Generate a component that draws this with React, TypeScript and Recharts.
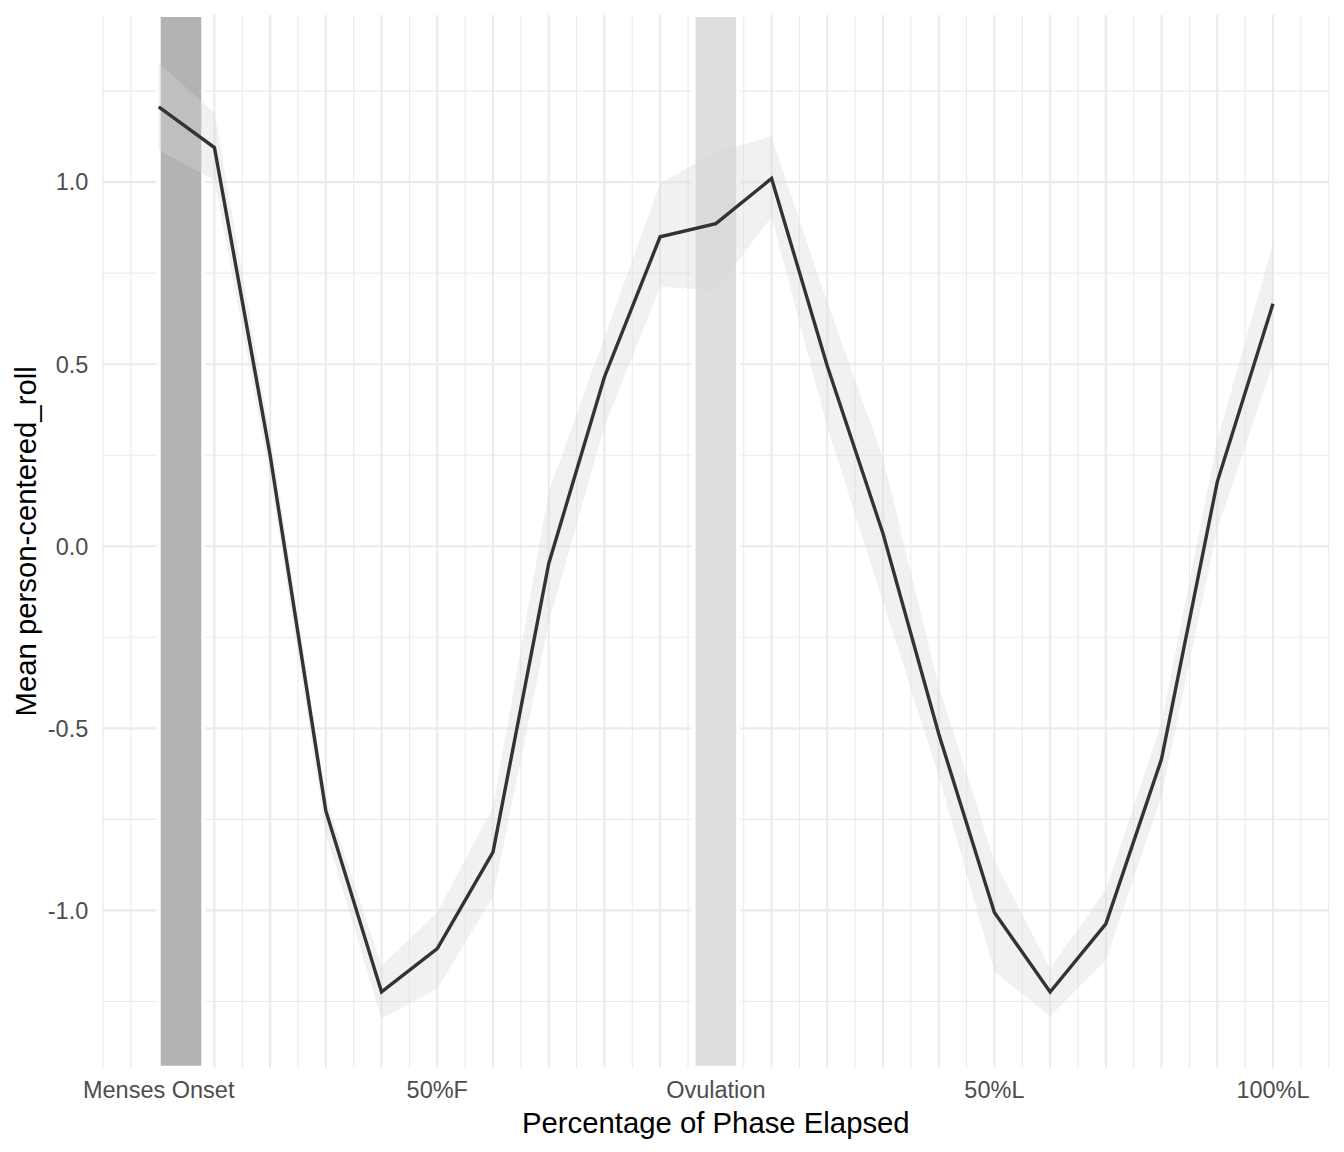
import {
    ComposedChart,
    Area,
    Line,
    XAxis,
    YAxis,
    CartesianGrid,
    ReferenceArea
} from 'recharts';

// position along the cycle (0 = menses onset, 10 = ovulation, 20 = end of luteal)
const phasePos = [0, 1, 2, 3, 4, 5, 6, 7, 8, 9, 10, 11, 12, 13, 14, 15, 16, 17, 18, 19, 20];
const meanRoll = [1.207, 1.095, 0.25, -0.727, -1.224, -1.105, -0.84, -0.048, 0.465, 0.85, 0.886,
    1.01, 0.495, 0.035, -0.515, -1.006, -1.224, -1.037, -0.584, 0.177, 0.666];
const ciLow = [1.088, 1.005, 0.19, -0.79, -1.297, -1.215, -0.963, -0.21, 0.33, 0.712, 0.703,
    0.905, 0.327, -0.152, -0.631, -1.168, -1.291, -1.137, -0.685, 0.048, 0.5];
const ciHigh = [1.327, 1.19, 0.31, -0.69, -1.151, -1.005, -0.716, 0.15, 0.575, 0.996, 1.083,
    1.125, 0.67, 0.242, -0.385, -0.864, -1.159, -0.944, -0.484, 0.292, 0.831];

const xTickPos = [0, 5, 10, 15, 20];
const xTickLabels = ['Menses Onset', '50%F', 'Ovulation', '50%L', '100%L'];
const yTicks = [-1, -0.5, 0, 0.5, 1];

const mensesBand = [0, 0.8];
const ovulationBand = [9.6, 10.4];

const data = phasePos.map((x, i) => ({
    x,
    mean: meanRoll[i],
    band: [ciLow[i], ciHigh[i]],
}));

// theme_minimal style grid: majors at integers / 0.5, minors in between
const xMinorGrid: number[] = [];
for (let v = -1; v <= 21; v += 0.5) xMinorGrid.push(v);
const yMinorGrid = [-1.25, -0.75, -0.25, 0.25, 0.75, 1.25];

const FONT = '"Liberation Sans", Arial, Helvetica, sans-serif';
const tickStyle = { fill: '#4D4D4D', fontSize: 23.5, fontFamily: FONT };
const titleStyle = { fill: '#000000', fontSize: 29.3, fontFamily: FONT };

export default function App() {
    return (
        <div style={{ width: 1336, height: 1144, fontFamily: FONT }}>
            <ComposedChart
                width={1336}
                height={1144}
                data={data}
                margin={{ top: 7, right: 15.3, left: 0, bottom: 4.3 }}
            >
                <CartesianGrid
                    stroke="#EBEBEB"
                    strokeWidth={1.1}
                    horizontalValues={yMinorGrid}
                    verticalValues={xMinorGrid}
                />
                <CartesianGrid
                    stroke="#EBEBEB"
                    strokeWidth={2.1}
                    horizontalValues={yTicks}
                    verticalValues={phasePos}
                />
                <XAxis
                    type="number"
                    dataKey="x"
                    domain={[-1, 21]}
                    ticks={xTickPos}
                    tickFormatter={(v: number) => xTickLabels[xTickPos.indexOf(v)] ?? ''}
                    axisLine={false}
                    tickLine={false}
                    tickSize={0}
                    tickMargin={13.6}
                    height={80}
                    tick={tickStyle}
                    interval={0}
                    allowDataOverflow
                    label={{
                        value: 'Percentage of Phase Elapsed',
                        position: 'insideBottom',
                        offset: 14.7,
                        style: titleStyle,
                    }}
                />
                <YAxis
                    type="number"
                    domain={[-1.432, 1.459]}
                    ticks={yTicks}
                    tickFormatter={(v: number) => v.toFixed(1)}
                    axisLine={false}
                    tickLine={false}
                    tickSize={0}
                    tickMargin={14.7}
                    width={95}
                    tick={tickStyle}
                    interval={0}
                    allowDataOverflow
                    label={{
                        value: 'Mean person-centered_roll',
                        angle: -90,
                        position: 'insideLeft',
                        offset: 17.5,
                        style: { ...titleStyle, textAnchor: 'middle' },
                    }}
                />
                <ReferenceArea
                    x1={mensesBand[0]}
                    x2={mensesBand[1]}
                    fill="#B3B3B3"
                    fillOpacity={1}
                    stroke="#FFFFFF"
                    strokeWidth={4}
                    zIndex={-50}
                />
                <ReferenceArea
                    x1={ovulationBand[0]}
                    x2={ovulationBand[1]}
                    fill="#DEDEDE"
                    fillOpacity={1}
                    stroke="#FFFFFF"
                    strokeWidth={4}
                    zIndex={-50}
                />
                <Area
                    type="linear"
                    dataKey="band"
                    fill="#D6D6D6"
                    fillOpacity={0.35}
                    stroke="none"
                    dot={false}
                    activeDot={false}
                    isAnimationActive={false}
                />
                <Line
                    type="linear"
                    dataKey="mean"
                    stroke="#333333"
                    strokeWidth={3.4}
                    dot={false}
                    activeDot={false}
                    isAnimationActive={false}
                />
            </ComposedChart>
        </div>
    );
}
